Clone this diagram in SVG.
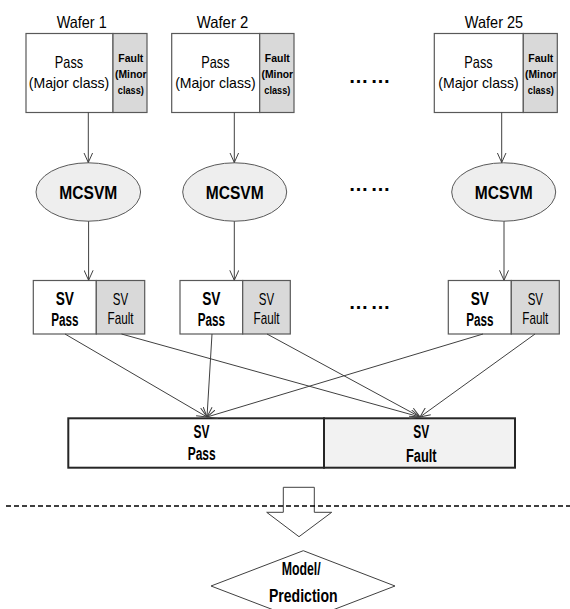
<svg xmlns="http://www.w3.org/2000/svg" width="570" height="609" viewBox="0 0 570 609">
<defs>
<marker id="arr" viewBox="0 0 10 10" refX="10" refY="5" markerWidth="10" markerHeight="10" markerUnits="userSpaceOnUse" orient="auto">
<path d="M0,0.5 L10,5 L0,9.5" fill="none" stroke="#404040" stroke-width="1"/>
</marker>
</defs>
<style>
text{font-family:"Liberation Sans",Arial,sans-serif;fill:#000;text-anchor:middle}
.lbl{font-size:16.5px}
.pass{font-size:16.5px}
.maj{font-size:15px}
.flt{font-size:11.5px;font-weight:bold}
.ell{fill:#eeeeee;stroke:#595959;stroke-width:1}
.mc{font-size:18.5px;font-weight:bold}
.mp{font-size:19px;font-weight:bold}
.wb{fill:#fff;stroke:#595959;stroke-width:1.2}
.wg{fill:#d9d9d9;stroke:#595959;stroke-width:1.2}
.svb{font-size:18px;font-weight:bold}
.svr{font-size:17px}
.dots{font-size:20px;font-weight:bold}
.con line{stroke:#404040;stroke-width:1;marker-end:url(#arr)}
</style>

<!-- Wafer labels -->
<text class="lbl" x="81.7" y="28.3" textLength="50" lengthAdjust="spacingAndGlyphs">Wafer 1</text>
<text class="lbl" x="222.5" y="28.3" textLength="51.6" lengthAdjust="spacingAndGlyphs">Wafer 2</text>
<text class="lbl" x="494" y="28.3" textLength="58.3" lengthAdjust="spacingAndGlyphs">Wafer 25</text>

<g id="wafer1">
<rect class="wb" x="26" y="33.5" width="87" height="79"/>
<rect class="wg" x="113" y="33.5" width="34" height="79"/>
<text class="pass" x="69" y="68.3" textLength="28.3" lengthAdjust="spacingAndGlyphs">Pass</text>
<text class="maj" x="69" y="88.3" textLength="80.5" lengthAdjust="spacingAndGlyphs">(Major class)</text>
<text class="flt" x="130.8" y="61.7" textLength="25" lengthAdjust="spacingAndGlyphs">Fault</text>
<text class="flt" x="130.8" y="78" textLength="31.5" lengthAdjust="spacingAndGlyphs">(Minor</text>
<text class="flt" x="130.8" y="93.5" textLength="26" lengthAdjust="spacingAndGlyphs">class)</text>
</g>
<g id="wafer2">
<rect class="wb" x="171.7" y="33.5" width="88" height="79"/>
<rect class="wg" x="259.7" y="33.5" width="34.3" height="79"/>
<text class="pass" x="215.4" y="68.3" textLength="28.3" lengthAdjust="spacingAndGlyphs">Pass</text>
<text class="maj" x="215.4" y="88.3" textLength="80.5" lengthAdjust="spacingAndGlyphs">(Major class)</text>
<text class="flt" x="277.3" y="61.7" textLength="25" lengthAdjust="spacingAndGlyphs">Fault</text>
<text class="flt" x="277.3" y="78" textLength="31.5" lengthAdjust="spacingAndGlyphs">(Minor</text>
<text class="flt" x="277.3" y="93.5" textLength="26" lengthAdjust="spacingAndGlyphs">class)</text>
</g>
<g id="wafer25">
<rect class="wb" x="434.3" y="33.5" width="89" height="79"/>
<rect class="wg" x="523.3" y="33.5" width="34" height="79"/>
<text class="pass" x="478.5" y="68.3" textLength="28.3" lengthAdjust="spacingAndGlyphs">Pass</text>
<text class="maj" x="478.5" y="88.3" textLength="80.5" lengthAdjust="spacingAndGlyphs">(Major class)</text>
<text class="flt" x="540.8" y="61.7" textLength="25" lengthAdjust="spacingAndGlyphs">Fault</text>
<text class="flt" x="540.8" y="78" textLength="31.5" lengthAdjust="spacingAndGlyphs">(Minor</text>
<text class="flt" x="540.8" y="93.5" textLength="26" lengthAdjust="spacingAndGlyphs">class)</text>
</g>

<g id="dots">
<text class="dots" x="369.5" y="83" textLength="42" lengthAdjust="spacing">……</text>
<text class="dots" x="369.5" y="190.5" textLength="42" lengthAdjust="spacing">……</text>
<text class="dots" x="369.5" y="309" textLength="42" lengthAdjust="spacing">……</text>
</g>

<g id="mcsvm1">
<ellipse class="ell" cx="88.3" cy="192" rx="52.3" ry="29.2"/>
<text class="mc" x="88.3" y="199.3" textLength="58" lengthAdjust="spacingAndGlyphs">MCSVM</text>
</g>
<g id="mcsvm2">
<ellipse class="ell" cx="234.7" cy="192" rx="52" ry="29.2"/>
<text class="mc" x="234.7" y="199.3" textLength="58" lengthAdjust="spacingAndGlyphs">MCSVM</text>
</g>
<g id="mcsvm25">
<ellipse class="ell" cx="503.7" cy="192" rx="52" ry="29.2"/>
<text class="mc" x="503.7" y="199.3" textLength="58" lengthAdjust="spacingAndGlyphs">MCSVM</text>
</g>

<g id="sv1">
<rect class="wb" x="33.3" y="280.5" width="63" height="53.5"/>
<rect class="wg" x="96.3" y="280.5" width="48.4" height="53.5"/>
<text class="svb" x="64.8" y="305" textLength="18.3" lengthAdjust="spacingAndGlyphs">SV</text>
<text class="svb" x="64.8" y="326" textLength="27.3" lengthAdjust="spacingAndGlyphs">Pass</text>
<text class="svr" x="120.5" y="305" textLength="15.3" lengthAdjust="spacingAndGlyphs">SV</text>
<text class="svr" x="120.5" y="324" textLength="26" lengthAdjust="spacingAndGlyphs">Fault</text>
</g>
<g id="sv2">
<rect class="wb" x="180" y="280.5" width="62.7" height="53.5"/>
<rect class="wg" x="242.7" y="280.5" width="47.6" height="53.5"/>
<text class="svb" x="211.3" y="305" textLength="18.3" lengthAdjust="spacingAndGlyphs">SV</text>
<text class="svb" x="211.3" y="326" textLength="27.3" lengthAdjust="spacingAndGlyphs">Pass</text>
<text class="svr" x="266.5" y="305" textLength="15.3" lengthAdjust="spacingAndGlyphs">SV</text>
<text class="svr" x="266.5" y="324" textLength="26" lengthAdjust="spacingAndGlyphs">Fault</text>
</g>
<g id="sv25">
<rect class="wb" x="448.3" y="280.5" width="63" height="53.5"/>
<rect class="wg" x="511.3" y="280.5" width="48" height="53.5"/>
<text class="svb" x="479.8" y="305" textLength="18.3" lengthAdjust="spacingAndGlyphs">SV</text>
<text class="svb" x="479.8" y="326" textLength="27.3" lengthAdjust="spacingAndGlyphs">Pass</text>
<text class="svr" x="535.3" y="305" textLength="15.3" lengthAdjust="spacingAndGlyphs">SV</text>
<text class="svr" x="535.3" y="324" textLength="26" lengthAdjust="spacingAndGlyphs">Fault</text>
</g>

<g id="combined">
<rect x="68.3" y="418.3" width="255.7" height="49.4" fill="#fff" stroke="#262626" stroke-width="2"/>
<rect x="324" y="418.3" width="191" height="49.4" fill="#f2f2f2" stroke="#262626" stroke-width="2"/>
<text class="svb" x="201.5" y="438.3" textLength="16" lengthAdjust="spacingAndGlyphs">SV</text>
<text class="svb" x="201.7" y="460" textLength="28" lengthAdjust="spacingAndGlyphs">Pass</text>
<text class="svb" x="421.3" y="438.3" textLength="16" lengthAdjust="spacingAndGlyphs">SV</text>
<text class="svb" x="421.3" y="461.5" textLength="30.7" lengthAdjust="spacingAndGlyphs">Fault</text>
</g>

<g class="con" id="connectors">
<line x1="88.3" y1="112.5" x2="88.3" y2="162.5"/>
<line x1="234.3" y1="112.5" x2="234.3" y2="162.5"/>
<line x1="501.7" y1="112.5" x2="501.7" y2="162.5"/>
<line x1="88.6" y1="221.2" x2="88.6" y2="280.3"/>
<line x1="234.3" y1="221.2" x2="234.3" y2="280.3"/>
<line x1="504" y1="221.2" x2="504" y2="280.3"/>
<line x1="65" y1="334" x2="207" y2="417"/>
<line x1="121.5" y1="334" x2="420" y2="417"/>
<line x1="212" y1="334" x2="207" y2="417"/>
<line x1="267" y1="334" x2="420" y2="417"/>
<line x1="483" y1="334" x2="207" y2="417"/>
<line x1="535" y1="334" x2="420" y2="417"/>
</g>

<g id="bigarrow">
<polygon points="283.3,487.3 314.3,487.3 314.3,512.3 331.7,512.3 299,536.7 266.7,512.3 283.3,512.3" fill="#fff" stroke="#404040" stroke-width="1"/>
</g>
<line x1="6" y1="506" x2="570" y2="506" stroke="#000" stroke-width="1.3" stroke-dasharray="5,3"/>

<g id="model">
<polygon points="303.3,550.7 395,586 303.3,621.3 211,586" fill="#fff" stroke="#404040" stroke-width="1"/>
<text class="mp" x="301.2" y="575" textLength="39" lengthAdjust="spacingAndGlyphs">Model/</text>
<text class="mp" x="303.3" y="601.7" textLength="68.7" lengthAdjust="spacingAndGlyphs">Prediction</text>
</g>
</svg>
